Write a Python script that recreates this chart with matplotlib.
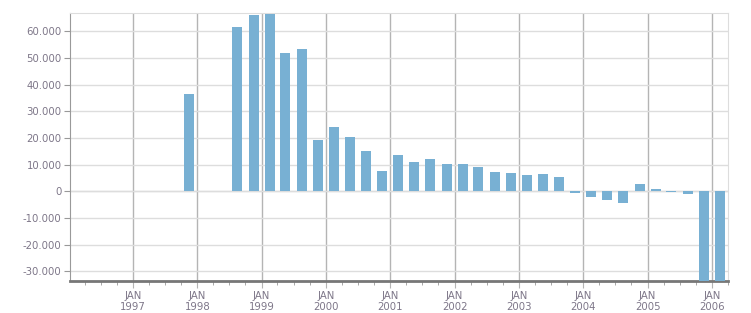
import datetime as dt
import matplotlib
matplotlib.use("Agg")
import matplotlib.pyplot as plt
import matplotlib.dates as mdates
import matplotlib.ticker as ticker

# quarterly values (quarter start, value)
quarters = ["1997Q4",
            "1998Q3", "1998Q4",
            "1999Q1", "1999Q2", "1999Q3", "1999Q4",
            "2000Q1", "2000Q2", "2000Q3", "2000Q4",
            "2001Q1", "2001Q2", "2001Q3", "2001Q4",
            "2002Q1", "2002Q2", "2002Q3", "2002Q4",
            "2003Q1", "2003Q2", "2003Q3", "2003Q4",
            "2004Q1", "2004Q2", "2004Q3", "2004Q4",
            "2005Q1", "2005Q2", "2005Q3", "2005Q4",
            "2006Q1"]
values = [36600,
          61800, 66300,
          66700, 52000, 53500, 19300,
          24200, 20400, 15200, 7600,
          13600, 11000, 12100, 10300,
          10300, 9100, 7200, 6800,
          6000, 6400, 5300, -700,
          -2200, -3300, -4400, 2600,
          700, -400, -1100, -45000,
          -48000]
year_ticks = list(range(1997, 2007))

TXT = "#7d7688"


def quarter_mid(q):
    y, n = int(q[:4]), int(q[-1])
    start = dt.date(y, 3 * (n - 1) + 1, 1)
    end = dt.date(y + (n == 4), (3 * n) % 12 + 1, 1)
    return start + (end - start) / 2


def fmt_thousands(v, pos=None):
    return f"{int(round(v)):,}".replace(",", ".")


fig = plt.figure(figsize=(7.51, 3.13), dpi=100)
ax = fig.add_axes([70 / 751, 32 / 313, 658 / 751, 268 / 313])

xs = [mdates.date2num(quarter_mid(q)) for q in quarters]
ax.bar(xs, values, width=57, color="#78b0d3", zorder=3)

ax.set_xlim(mdates.date2num(dt.date(1996, 1, 9)), mdates.date2num(dt.date(2006, 4, 2)))
ax.set_ylim(-33700, 66900)

ax.yaxis.set_major_locator(ticker.MultipleLocator(10000))
ax.yaxis.set_major_formatter(ticker.FuncFormatter(fmt_thousands))
ax.set_xticks([mdates.date2num(dt.date(y, 1, 1)) for y in year_ticks])
ax.set_xticklabels([f"JAN\n{y}" for y in year_ticks])
ax.xaxis.set_minor_locator(mdates.MonthLocator(bymonth=[4, 7, 10]))

ax.grid(axis="y", color="#dddddd", lw=1, zorder=0)
ax.grid(axis="x", which="major", color="#b4b4b4", lw=1, zorder=1)
ax.axhline(0, color="#dddddd", lw=1, zorder=1)

for s in ("top", "right"):
    ax.spines[s].set_color("#dddddd")
ax.spines["left"].set_color("#999999")
ax.spines["bottom"].set_color("#777777")
ax.spines["bottom"].set_linewidth(2)

ax.tick_params(axis="y", length=4, color="#999999", labelsize=7.3, labelcolor=TXT, pad=2)
ax.tick_params(axis="x", which="major", length=5, color="#b4b4b4", labelsize=7.3, labelcolor=TXT, pad=2)
ax.tick_params(axis="x", which="minor", length=3, color="#999999")
for lab in ax.get_xticklabels():
    lab.set_linespacing(1.15)

fig.savefig("out.png", dpi=100)
